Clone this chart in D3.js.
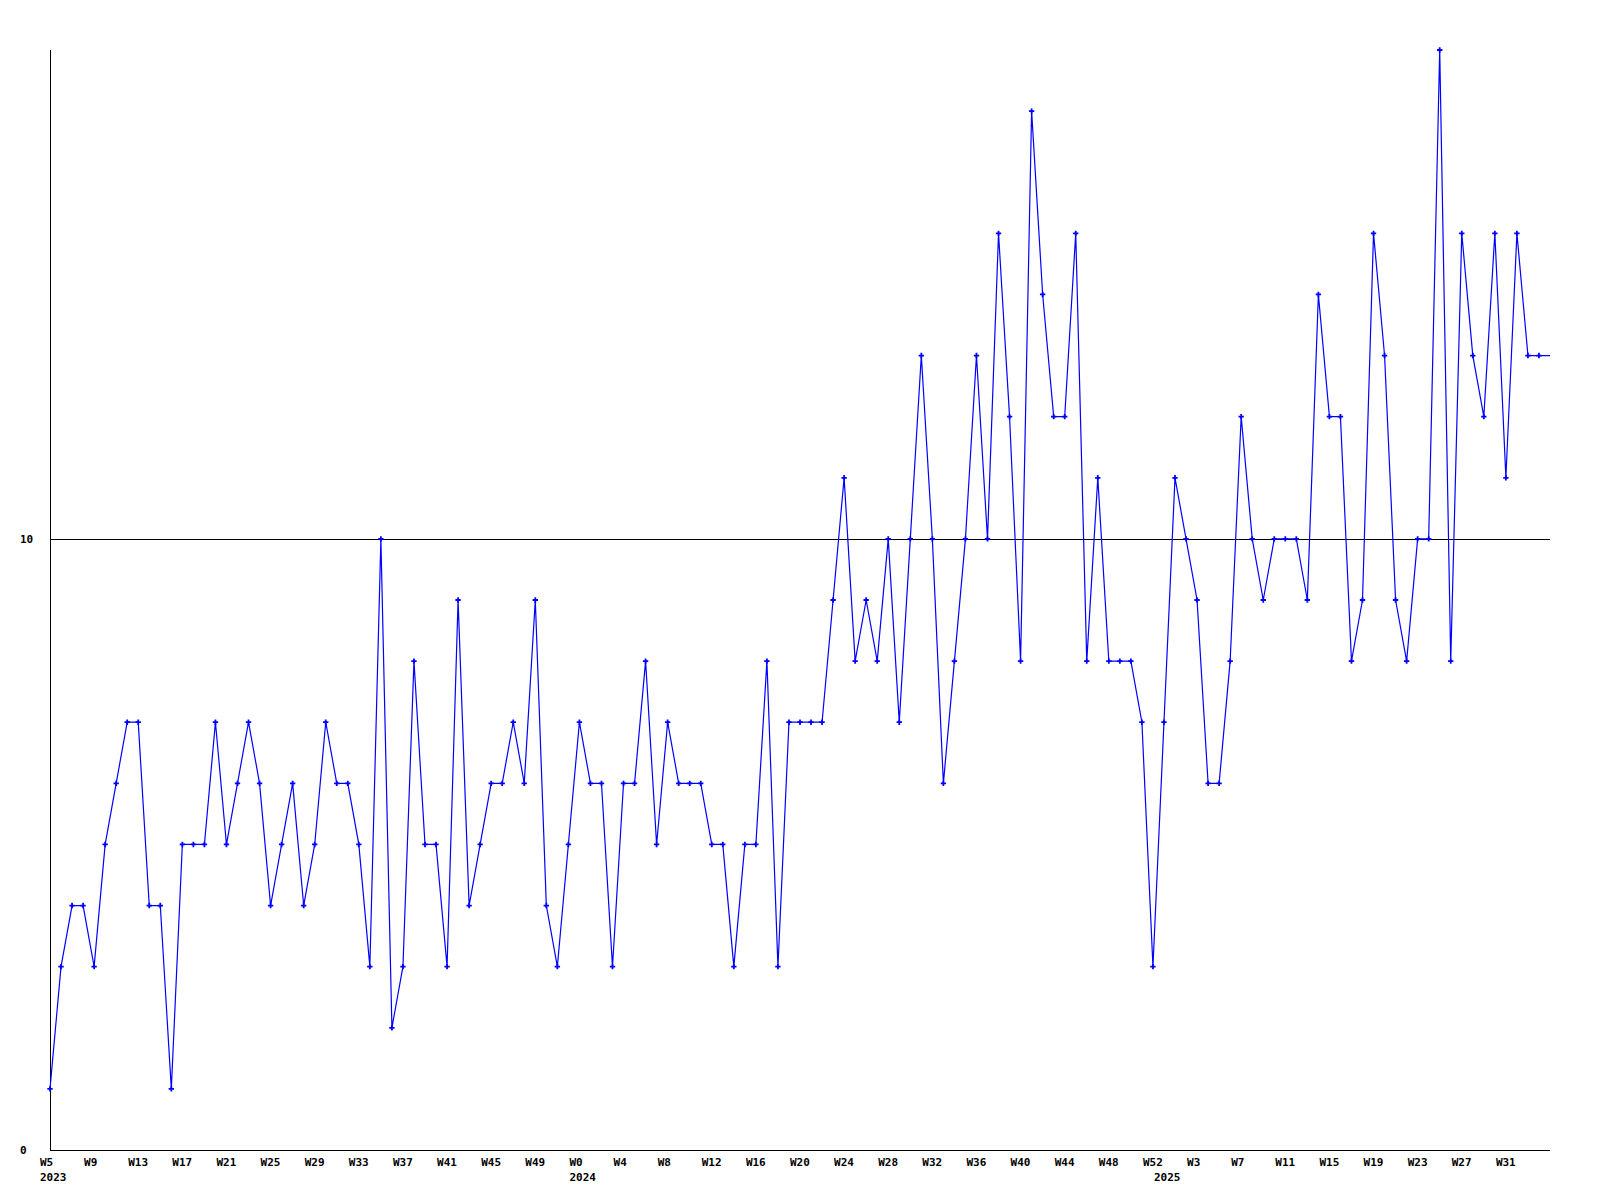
<!DOCTYPE html>
<html>
<head>
<meta charset="utf-8">
<script src="https://cdn.jsdelivr.net/npm/d3@7"></script>
<style>
  html, body { margin: 0; padding: 0; background: #fff; }
  svg { display: block; }
  text { font-family: "DejaVu Sans Mono", "Liberation Mono", monospace; font-weight: bold; font-size: 11px; fill: #000; }
</style>
</head>
<body>
<svg id="chart" width="1600" height="1200"></svg>
<script>
// ---- data ----
const years = [2023, 2024, 2025];
const weeks2023 = d3.range(5, 53);   // W5 .. W52
const weeks2024 = d3.range(0, 53);   // W0 .. W52
const weeks2025 = d3.range(0, 36);   // W0 .. W35
const values = [
  1,3,4,4,3,5,6,7,7,4,
  4,1,5,5,5,7,5,6,7,6,
  4,5,6,4,5,7,6,6,5,3,
  10,2,3,8,5,5,3,9,4,5,
  6,6,7,6,9,4,3,5,7,6,
  6,3,6,6,8,5,7,6,6,6,
  5,5,3,5,5,8,3,7,7,7,
  7,9,11,8,9,8,10,7,10,13,
  10,6,8,10,13,10,15,12,8,17,
  14,12,12,15,8,11,8,8,8,7,
  3,7,11,10,9,6,6,8,12,10,
  9,10,10,10,9,14,12,12,8,9,
  15,13,9,8,10,10,18,8,15,13,
  12,15,11,15,13,13,13
];
const yTicks = [0, 10];
const yMax = 18;
const tickEvery = 4;

(function () {
  // categories
  const categories = [];
  [weeks2023, weeks2024, weeks2025].forEach((ws, yi) => {
    ws.forEach((w, k) => categories.push({ year: years[yi], week: w, firstOfYear: k === 0 }));
  });
  const data = categories.map((c, i) => ({ ...c, i, v: values[i] }));
  const lastIdx = data.length - 1;

  // ---- layout ----
  const svg = d3.select("#chart");
  const mLeft = 50, mRight = 1550, mTop = 50, mBottom = 1150;

  const x = d3.scaleLinear().domain([0, lastIdx]).range([mLeft, mRight]);
  const y = d3.scaleLinear().domain([0, yMax]).range([mBottom, mTop]);

  // y axis line
  svg.append("line")
    .attr("x1", mLeft + 0.5).attr("x2", mLeft + 0.5)
    .attr("y1", mTop).attr("y2", mBottom)
    .attr("stroke", "#000").attr("stroke-width", 1).attr("shape-rendering", "crispEdges");

  // y tick lines (axis at 0, grid at 10) and labels
  yTicks.forEach(t => {
    svg.append("line")
      .attr("x1", mLeft).attr("x2", mRight)
      .attr("y1", Math.round(y(t)) + 0.5).attr("y2", Math.round(y(t)) + 0.5)
      .attr("stroke", "#000").attr("stroke-width", 1).attr("shape-rendering", "crispEdges");
    svg.append("text")
      .attr("x", 20).attr("y", y(t) + 4)
      .attr("text-anchor", "start")
      .text(t);
  });

  // x labels (none at the final, open-ended point)
  data.forEach(d => {
    if (d.i === lastIdx) return;
    if (d.i % tickEvery === 0) {
      svg.append("text")
        .attr("x", x(d.i) - 10).attr("y", mBottom + 16)
        .attr("text-anchor", "start")
        .text("W" + d.week);
    }
    if (d.firstOfYear) {
      svg.append("text")
        .attr("x", x(d.i) - 10).attr("y", mBottom + 31)
        .attr("text-anchor", "start")
        .text(d.year);
    }
  });

  // line
  const line = d3.line().x(d => x(d.i)).y(d => y(d.v));
  svg.append("path")
    .datum(data)
    .attr("d", line)
    .attr("fill", "none")
    .attr("stroke", "#0000ff")
    .attr("stroke-width", 1.2);

  // markers (all but the last point)
  const cross = d3.symbol().type(d3.symbolCross).size(16);
  svg.append("g").selectAll("path")
    .data(data.slice(0, -1))
    .join("path")
    .attr("transform", d => `translate(${x(d.i)},${y(d.v)})`)
    .attr("d", cross)
    .attr("fill", "#0000ff");
})();
</script>
</body>
</html>
